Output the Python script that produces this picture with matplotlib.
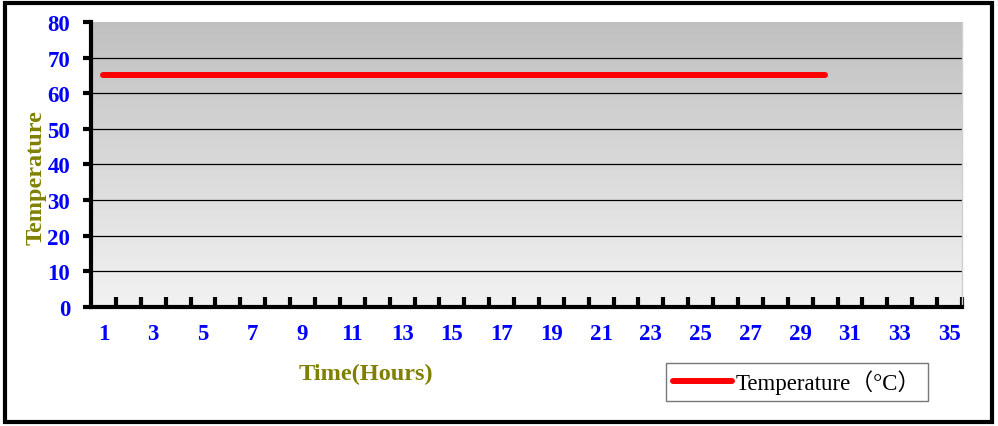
import matplotlib.pyplot as plt
import numpy as np
from matplotlib.patches import Rectangle

# hours 1..35 on the category axis, readings only for first 30
hours = list(range(1, 36))
temp_hours = list(range(1, 31))
temperature = [65] * 30
yticks = [0, 10, 20, 30, 40, 50, 60, 70, 80]

fig = plt.figure(figsize=(9.98, 4.27), dpi=100)
ax = fig.add_axes([0.0912, 0.2795, 0.8727, 0.6665])

n = len(hours)
ax.set_xlim(0.5, n + 0.5)
ax.set_ylim(0, 80)

# grey gradient background, darker at the top
grad = np.linspace(0, 1, 256).reshape(-1, 1)
ax.imshow(grad, cmap=plt.matplotlib.colors.LinearSegmentedColormap.from_list(
    'g', ['#f2f2f2', '#c0c0c0']), origin='lower', aspect='auto',
    extent=[0.5, n + 0.5, 0, 80], zorder=0)

for y in yticks[1:-1]:
    ax.axhline(y, color='black', lw=0.9, zorder=1)

ax.plot(temp_hours, temperature, color='#ff0000', lw=4.3,
        solid_capstyle='round', zorder=3, label='Temperature（°C）')

ax.spines['top'].set_visible(False)
ax.spines['right'].set_color('#d0d0d0')
ax.spines['right'].set_linewidth(1)
ax.spines['left'].set_linewidth(3)
ax.spines['bottom'].set_linewidth(3)

ax.set_yticks(yticks)
ax.set_yticklabels([str(v) for v in yticks])
ax.tick_params(axis='y', direction='out', length=6, width=3, pad=9)

# ticks between categories, labels every other category
ax.set_xticks([h + 0.5 for h in hours], minor=True)
ax.set_xticks(hours[::2])
ax.set_xticklabels([str(h) for h in hours[::2]])
ax.tick_params(axis='x', which='minor', direction='in', length=7, width=3)
ax.tick_params(axis='x', which='major', length=0, pad=12)

for lab in ax.get_xticklabels() + ax.get_yticklabels():
    lab.set_fontfamily('Liberation Serif')
    lab.set_fontweight('bold')
    lab.set_fontsize(16.5)
    lab.set_color('#0000ff')

fig.text(0.036, 0.583, 'Temperature', rotation=90, ha='center', va='center',
         fontfamily='Liberation Serif', fontweight='bold', fontsize=17.5,
         color='#808000')
fig.text(0.367, 0.122, 'Time(Hours)', ha='center', va='center',
         fontfamily='Liberation Serif', fontweight='bold', fontsize=17.5,
         color='#808000')

leg = fig.legend(loc='lower left', bbox_to_anchor=(0.667, 0.058),
                 borderaxespad=0, frameon=True, fancybox=False,
                 handlelength=2.6, handletextpad=0.15, borderpad=0.3,
                 prop={'family': ['Liberation Serif', 'Noto Sans CJK TC'], 'size': 16.5})
leg.get_frame().set_edgecolor('#555555')
leg.get_frame().set_linewidth(1)

fig.patches.append(Rectangle((0.005, 0.009), 0.989, 0.982, transform=fig.transFigure,
                             fill=False, edgecolor='black', lw=3))

fig.savefig('out.png', dpi=100)
